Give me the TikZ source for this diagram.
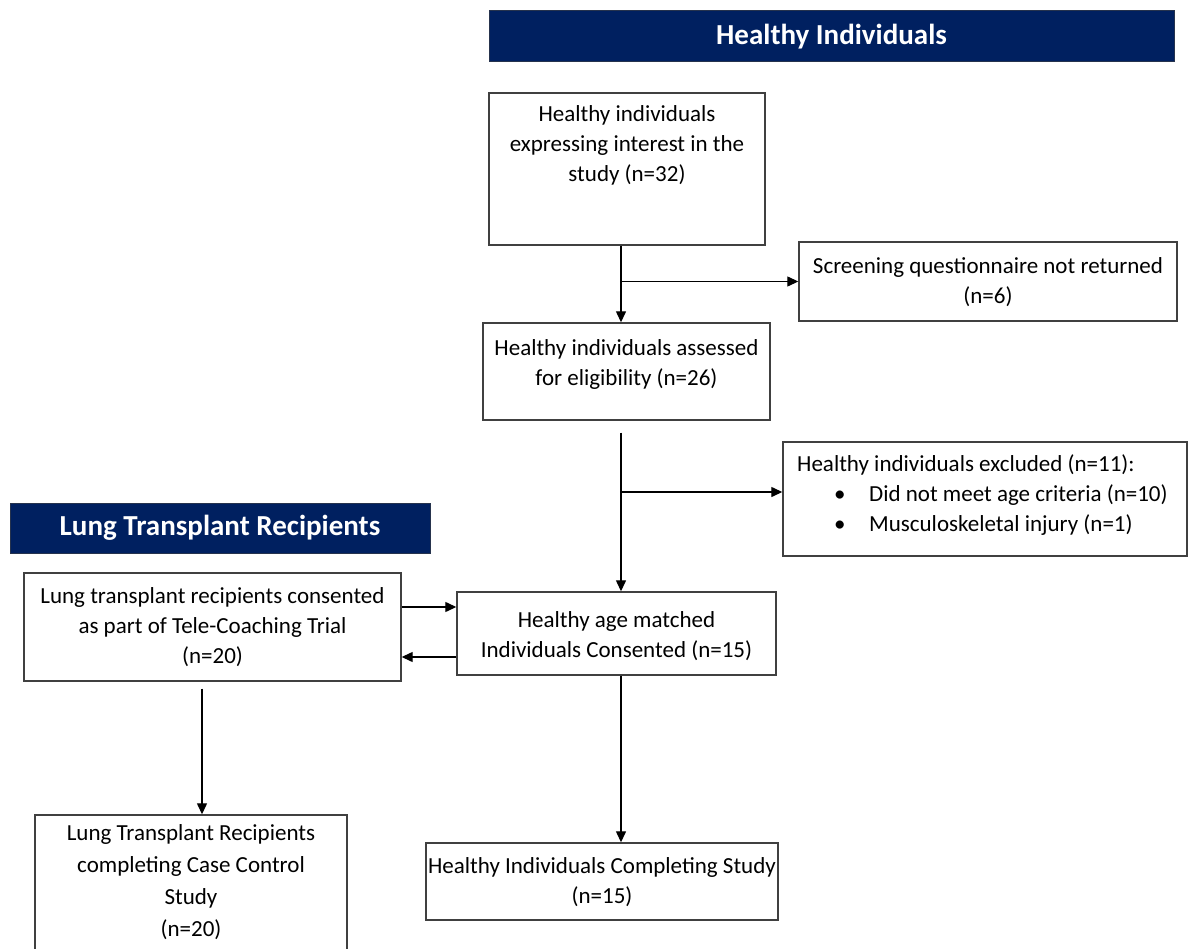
\documentclass[tikz,border=0pt]{standalone}
\usepackage{fontspec}
\setmainfont{Carlito}
\usetikzlibrary{arrows.meta}
\definecolor{navy}{HTML}{002060}
\definecolor{edge}{HTML}{404040}
\begin{document}
\begin{tikzpicture}[x=1pt,y=-1pt,
  box/.style={draw=edge, line width=1.4pt, fill=white, inner sep=0pt},
  head/.style={draw=edge!60!navy, line width=1pt, fill=navy, text=white, inner sep=0pt, font=\bfseries\fontsize{29}{32}\selectfont},
  txt/.style={align=center, inner sep=0pt, font=\fontsize{23}{30}\selectfont},
  arr/.style={line width=1.3pt, -{Triangle[length=11pt,width=10pt]}},
  ln/.style={line width=1.3pt}]
\useasboundingbox (0,0) rectangle (1193,949);

% headers
\node[head, minimum width=685pt, minimum height=51pt] (H1) at (831.5,36.5) {Healthy Individuals};
\node[head, minimum width=420pt, minimum height=50pt] (H2) at (220,528) {Lung Transplant Recipients};

% boxes
\node[box, minimum width=276pt, minimum height=152pt] (A) at (627,169) {};
\node[txt] (At) at (627,145.5) {Healthy individuals\\expressing interest in the\\study (n=32)};

\node[box, minimum width=378pt, minimum height=79pt] (B) at (988,281.5) {};
\node[txt] (Bt) at (988,282) {Screening questionnaire not returned\\(n=6)};

\node[box, minimum width=287pt, minimum height=97pt] (C) at (626.5,371.5) {};
\node[txt] (Ct) at (626.5,364) {Healthy individuals assessed\\for eligibility (n=26)};

\node[box, minimum width=404pt, minimum height=114pt] (D) at (985,499) {};
\node[txt, align=left, anchor=west] (Dt) at (797,495) {Healthy individuals excluded (n=11):\\\hspace*{37pt}\makebox[35pt][l]{•}Did not meet age criteria (n=10)\\\hspace*{37pt}\makebox[35pt][l]{•}Musculoskeletal injury (n=1)};

\node[box, minimum width=377pt, minimum height=108pt] (L1) at (212.5,627) {};
\node[txt] (L1t) at (212.5,627) {Lung transplant recipients consented\\as part of Tele-Coaching Trial\\(n=20)};

\node[box, minimum width=319pt, minimum height=83pt] (E) at (616.5,633.5) {};
\node[txt] (Et) at (616.5,636.5) {Healthy age matched\\Individuals Consented (n=15)};

\node[box, minimum width=312pt, minimum height=140pt] (L2) at (191,885) {};
\node[txt, font=\fontsize{23}{32}\selectfont] (L2t) at (191,882) {Lung Transplant Recipients\\completing Case Control\\Study\\(n=20)};

\node[box, minimum width=352pt, minimum height=77pt] (F) at (602,881.5) {};
\node[txt] (Ft) at (602,882) {Healthy Individuals Completing Study\\(n=15)};

% connectors
\coordinate (a1) at ([xshift=-6pt]A.south);
\draw[arr] (a1) -- (a1 |- C.north);
\draw[arr] (a1 |- B.west) -- (B.west);

\coordinate (c1) at ([shift={(-5.5,12)}]C.south);
\coordinate (d1) at ([yshift=7pt]D.west);
\draw[arr] (c1) -- (c1 |- E.north);
\draw[arr] (c1 |- d1) -- (d1);

\coordinate (l1a) at ([yshift=20pt]L1.east);
\draw[arr] (l1a) -- (l1a -| E.west);
\coordinate (l1b) at ([yshift=-30pt]L1.east);
\draw[arr] (l1b -| E.west) -- (l1b);

\coordinate (l1c) at ([shift={(-10.5,7)}]L1.south);
\draw[arr] (l1c) -- (l1c |- L2.north);

\coordinate (e1) at ([xshift=4.5pt]E.south);
\draw[arr] (e1) -- (e1 |- F.north);
\end{tikzpicture}
\end{document}
